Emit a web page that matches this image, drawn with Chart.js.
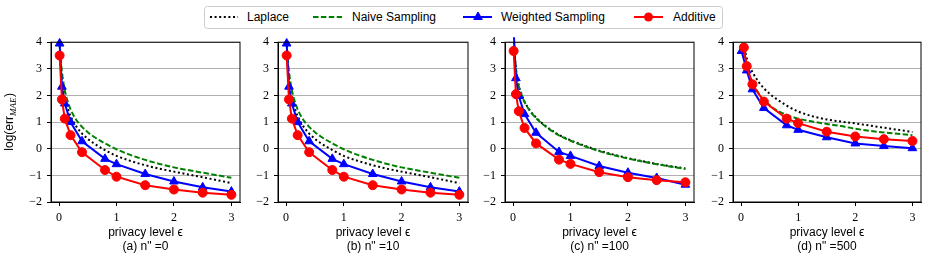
<!DOCTYPE html>
<html>
<head>
<meta charset="utf-8">
<script src="https://cdn.jsdelivr.net/npm/chart.js@4.4.0/dist/chart.umd.min.js"></script>
<style>
body { margin: 0; background: #fff; width: 927px; height: 260px; position: relative; overflow: hidden; }
canvas { position: absolute; top: 30px; }
#legend { position: absolute; left: 0; top: 0; }
</style>
</head>
<body>
<svg id="legend" width="927" height="32" font-family="Liberation Sans" font-size="12">
  <rect x="204.5" y="6.5" width="518" height="22" rx="3" fill="#fff" stroke="#cccccc"/>
  <line x1="210" y1="17" x2="238" y2="17" stroke="#000" stroke-width="2" stroke-dasharray="2,2.6"/>
  <text x="247" y="17" dominant-baseline="central">Laplace</text>
  <line x1="313" y1="17" x2="342" y2="17" stroke="#008000" stroke-width="2" stroke-dasharray="5.5,2.4"/>
  <text x="352" y="17" dominant-baseline="central">Naive Sampling</text>
  <line x1="463" y1="17" x2="492" y2="17" stroke="#0000ff" stroke-width="2"/>
  <polygon points="478,12 482.3,19.5 473.7,19.5" fill="#0000ff" stroke="#0000ff"/>
  <text x="501" y="17" dominant-baseline="central">Weighted Sampling</text>
  <line x1="634" y1="17" x2="663" y2="17" stroke="#ff0000" stroke-width="2"/>
  <circle cx="648.5" cy="17" r="4.5" fill="#ff0000"/>
  <text x="673" y="17" dominant-baseline="central">Additive</text>
</svg>
<canvas id="pa"></canvas>
<canvas id="pb"></canvas>
<canvas id="pc"></canvas>
<canvas id="pd"></canvas>
<script>
// epsilon values
const epsCurve = [0.01, 0.02, 0.05, 0.1, 0.15, 0.2, 0.3, 0.4, 0.5, 0.6, 0.8, 1, 1.25, 1.5, 1.75, 2, 2.5, 3];
const epsMarks = [0.01, 0.05, 0.1, 0.2, 0.4, 0.8, 1, 1.5, 2, 2.5, 3];
const epsWeightedD = [0.01, 0.1, 0.2, 0.4, 0.8, 1, 1.5, 2, 2.5, 3];
const epsAdditiveD = [0.05, 0.1, 0.2, 0.4, 0.8, 1, 1.5, 2, 2.5, 3];

// (a) n''=0
const laplaceA = [4.05, 3.4, 2.62, 1.93, 1.52, 1.23, 0.84, 0.57, 0.37, 0.21, -0.05, -0.27, -0.46, -0.62, -0.75, -0.86, -1.07, -1.29];
const naiveA = [4.3, 3.65, 2.9, 2.2, 1.78, 1.48, 1.08, 0.82, 0.62, 0.46, 0.2, -0.02, -0.24, -0.42, -0.57, -0.7, -0.9, -1.09];
const weightedA = [3.95, 2.33, 1.7, 1.0, 0.28, -0.38, -0.58, -0.95, -1.23, -1.45, -1.61];
const additiveA = [3.5, 1.85, 1.13, 0.51, -0.13, -0.8, -1.05, -1.37, -1.53, -1.65, -1.73];

// (b) n''=10
const laplaceB = [4.05, 3.4, 2.62, 1.93, 1.52, 1.23, 0.84, 0.57, 0.37, 0.21, -0.05, -0.27, -0.46, -0.62, -0.75, -0.86, -1.07, -1.29];
const naiveB = [4.3, 3.65, 2.9, 2.2, 1.78, 1.48, 1.08, 0.82, 0.62, 0.46, 0.2, -0.02, -0.24, -0.42, -0.57, -0.7, -0.9, -1.09];
const weightedB = [3.95, 2.33, 1.7, 1.0, 0.28, -0.38, -0.58, -0.95, -1.23, -1.45, -1.61];
const additiveB = [3.5, 1.85, 1.13, 0.51, -0.13, -0.8, -1.05, -1.37, -1.53, -1.65, -1.73];

// (c) n''=100
const laplaceC = [4.52, 3.87, 3.02, 2.37, 2.04, 1.77, 1.42, 1.17, 0.97, 0.8, 0.52, 0.32, 0.11, -0.07, -0.22, -0.35, -0.57, -0.74];
const naiveC = [4.5, 3.85, 3.0, 2.35, 2.02, 1.75, 1.4, 1.15, 0.95, 0.78, 0.5, 0.3, 0.09, -0.09, -0.24, -0.37, -0.58, -0.76];
const weightedC = [4.5, 2.65, 1.98, 1.3, 0.6, -0.12, -0.27, -0.65, -0.9, -1.1, -1.35];
const additiveC = [3.67, 2.05, 1.41, 0.78, 0.2, -0.41, -0.57, -0.88, -1.07, -1.18, -1.26];

// (d) n''=500
const laplaceD = [4.8, 4.4, 3.95, 3.4, 3.1, 2.88, 2.53, 2.27, 2.07, 1.9, 1.62, 1.4, 1.22, 1.1, 1.02, 0.95, 0.79, 0.63];
const naiveD = [4.5, 4.1, 3.65, 3.12, 2.75, 2.5, 2.1, 1.84, 1.64, 1.48, 1.27, 1.13, 1.02, 0.93, 0.85, 0.75, 0.61, 0.51];
const weightedD = [3.67, 2.94, 2.23, 1.53, 0.88, 0.71, 0.43, 0.2, 0.1, 0.02];
const additiveD = [3.8, 3.1, 2.42, 1.77, 1.13, 0.96, 0.64, 0.46, 0.36, 0.29];

const captions = ['(a) n" =0', '(b) n" =10', '(c) n" =100', '(d) n" =500'];
const xLabel = 'privacy level \u03F5';

function pts(xs, ys) {
  return xs.map((x, i) => ({ x: x, y: ys[i] }));
}

// top and right spines
const boxPlugin = {
  id: 'box',
  afterDraw(chart) {
    const a = chart.chartArea, c = chart.ctx;
    c.save();
    c.strokeStyle = '#000';
    c.lineWidth = 1;
    c.strokeRect(a.left, a.top, a.right - a.left, a.bottom - a.top);
    c.restore();
  }
};

// log(err_MAE) with subscript
const yTitlePlugin = {
  id: 'ytitle',
  afterDraw(chart) {
    const c = chart.ctx, a = chart.chartArea;
    const f1 = '12px "Liberation Sans"', f2 = 'italic 9px "Liberation Serif"';
    c.save();
    c.translate(10, (a.top + a.bottom) / 2);
    c.rotate(-Math.PI / 2);
    c.fillStyle = '#000';
    c.textBaseline = 'middle';
    c.font = f1;
    const w1 = c.measureText('log(err').width;
    const w3 = c.measureText(')').width;
    c.font = f2;
    const w2 = c.measureText('MAE').width;
    let x = -(w1 + w2 + w3) / 2;
    c.font = f1; c.fillText('log(err', x, 0); x += w1;
    c.font = f2; c.fillText('MAE', x, 4); x += w2 + 0.5;
    c.font = f1; c.fillText(')', x, 0);
    c.restore();
  }
};

function makePanel(id, left, yW, plotW, caption, lap, nai, wX, wei, aX, add, withTitle) {
  const canvas = document.getElementById(id);
  canvas.width = yW + plotW + 5;
  canvas.height = 230;
  canvas.style.left = (left - yW) + 'px';
  const marker = { left: 6, right: 6, top: 5, bottom: 6 };
  new Chart(canvas.getContext('2d'), {
    type: 'line',
    data: {
      datasets: [
        { label: 'Laplace', data: pts(epsCurve, lap), borderColor: '#000', borderWidth: 2,
          borderDash: [2, 2.6], pointRadius: 0, cubicInterpolationMode: 'monotone', order: 4 },
        { label: 'Naive Sampling', data: pts(epsCurve, nai), borderColor: '#008000', borderWidth: 2,
          borderDash: [5.5, 2.4], pointRadius: 0, cubicInterpolationMode: 'monotone', order: 3 },
        { label: 'Weighted Sampling', data: pts(wX, wei), borderColor: '#0000ff', backgroundColor: '#0000ff',
          borderWidth: 2, pointStyle: 'triangle', pointRadius: 5, pointBorderWidth: 1, tension: 0, order: 2, clip: marker },
        { label: 'Additive', data: pts(aX, add), borderColor: '#ff0000', backgroundColor: '#ff0000',
          borderWidth: 2, pointStyle: 'circle', pointRadius: 4.5, pointBorderWidth: 1, tension: 0, order: 1, clip: marker }
      ]
    },
    options: {
      responsive: false,
      animation: false,
      devicePixelRatio: 1,
      layout: { padding: { left: 0, right: 5, top: 8, bottom: 0 } },
      plugins: { legend: { display: false }, tooltip: { enabled: false } },
      scales: {
        x: {
          type: 'linear', min: -0.14, max: 3.15,
          afterFit(s) { s.height = 58; },
          ticks: { stepSize: 1, includeBounds: false, padding: 5, color: '#000', maxRotation: 0,
                   font: { family: 'Liberation Serif', size: 12 } },
          grid: { drawOnChartArea: false, drawTicks: true, tickLength: 4, tickColor: '#000' },
          border: { color: '#000', width: 1 },
          title: { display: true, text: [xLabel, caption], color: '#000',
                   font: { family: 'Liberation Sans', size: 12, lineHeight: 1.17 },
                   padding: { top: 0, bottom: 6 } }
        },
        y: {
          type: 'linear', min: -2, max: 4,
          afterFit(s) { s.width = yW; },
          ticks: { stepSize: 1, padding: 5, color: '#000', font: { family: 'Liberation Serif', size: 12 },
                   callback: v => String(v).replace('-', '\u2212') },
          grid: { color: '#b0b0b0', lineWidth: 1, tickColor: '#000', tickLength: 4 },
          border: { color: '#000', width: 1 }
        }
      }
    },
    plugins: withTitle ? [boxPlugin, yTitlePlugin] : [boxPlugin]
  });
}

makePanel('pa', 51, 51, 190, captions[0], laplaceA, naiveA, epsMarks, weightedA, epsMarks, additiveA, true);
makePanel('pb', 278, 40, 191, captions[1], laplaceB, naiveB, epsMarks, weightedB, epsMarks, additiveB, false);
makePanel('pc', 505, 40, 190, captions[2], laplaceC, naiveC, epsMarks, weightedC, epsMarks, additiveC, false);
makePanel('pd', 733, 40, 189, captions[3], laplaceD, naiveD, epsWeightedD, weightedD, epsAdditiveD, additiveD, false);
</script>
</body>
</html>
